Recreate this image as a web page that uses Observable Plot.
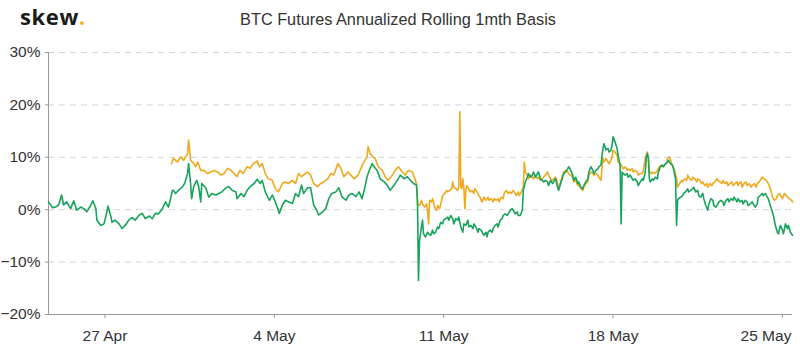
<!DOCTYPE html>
<html><head><meta charset="utf-8">
<script src="https://cdn.jsdelivr.net/npm/d3@7"></script>
<script src="https://cdn.jsdelivr.net/npm/@observablehq/plot@0.6"></script>
<style>
body{margin:0;background:#fff;width:800px;height:353px;overflow:hidden;}
svg{display:block;}
</style></head>
<body>
<svg id="head" width="800" height="40">
  <text x="20" y="25" font-family="Open Sans, sans-serif" font-weight="700" font-size="22" letter-spacing="0.6" fill="#1a1a1a">skew<tspan fill="#f2b52a">.</tspan></text>
  <text x="398" y="24.5" text-anchor="middle" font-family="Liberation Sans, Arial, sans-serif" font-size="16.3" fill="#333">BTC Futures Annualized Rolling 1mth Basis</text>
</svg>
<div id="chart"></div>
<script>
// Time axis: hours since 2020-04-24 16:00 UTC
const startTime = "2020-04-24T16:00:00Z";
const endHour = 738;
const tickDates = ["2020-04-27","2020-05-04","2020-05-11","2020-05-18","2020-05-25"];
const tickLabels = ["27 Apr","4 May","11 May","18 May","25 May"];
const yTicks = [-20,-10,0,10,20,30];

// Green series: [hour, basis %]
const greenData = [[0,1.5],[4,0.4],[7,0.5],[10,0.9],[13,2.8],[15,0.9],[18,1.5],[22,0.2],[25,1.7],[28,-0.1],[32,0.5],[35,0.2],[38,-0.4],[42,0.9],[44,1.7],[47,0.2],[48,-2.0],[52,-3.0],[55,-2.7],[58,-0.4],[59,0.7],[62,-1.4],[63,-2.4],[66,-2.0],[70,-2.7],[73,-3.6],[76,-3.0],[80,-1.9],[83,-1.5],[86,-2.0],[90,-1.0],[93,-0.7],[96,-1.7],[100,-1.2],[103,-1.7],[106,-0.7],[109,-0.8],[113,0.2],[116,1.5],[119,0.5],[121,2.1],[123,3.7],[124,3.7],[126,3.1],[129,3.7],[133,4.4],[135,5.0],[138,6.9],[139,8.8],[141,4.8],[142,2.1],[144,4.4],[147,5.6],[149,4.4],[151,1.5],[152,5.0],[156,4.2],[159,2.4],[162,3.1],[166,2.8],[169,3.1],[172,3.4],[176,4.2],[179,4.4],[182,3.7],[186,3.4],
[187,2.1],[191,3.1],[194,2.5],[197,3.7],[200,4.4],[204,5.0],[207,5.8],[210,5.0],[212,5.6],[215,3.4],[219,1.8],[222,2.8],[225,1.5],[229,-0.7],[232,0.9],[235,1.8],[238,1.5],[242,1.2],[245,3.1],[248,2.5],[251,4.7],[253,3.1],[257,4.2],[260,4.2],[263,0.9],[266,-0.1],[268,-1.0],[272,-0.4],[275,0.2],[278,2.1],[281,3.1],[285,3.4],[288,4.2],[291,2.5],[295,1.8],[298,2.8],[301,3.1],[305,2.5],[308,3.4],[311,2.1],[314,4.4],[316,6.3],[319,7.9],[321,8.8],[323,8.2],[326,7.5],[329,5.9],[333,5.3],[336,4.7],[339,3.7],[343,4.7],[346,5.6],[349,6.6],[353,5.9],[356,6.3],[359,5.6],[362,5.0],[365,4.7],
[366,1.8],[367,-13.5],[368,-5.9],[370,-3.3],[371,-2.0],[372,-4.6],[374,-5.2],[376,-4.3],[377,-4.6],[379,-4.9],[381,-3.9],[382,-4.6],[384,-4.3],[386,-3.3],[387,-3.6],[389,-2.4],[391,-2.7],[392,-2.0],[394,-1.7],[396,-1.4],[397,-2.0],[399,-1.1],[401,-1.7],[402,-2.7],[404,-1.7],[406,-2.0],[407,-1.4],[409,-3.3],[411,-4.3],[412,-2.7],[414,-3.0],[416,-2.0],[417,-3.3],[419,-3.0],[421,-3.6],[422,-2.7],[424,-3.3],[426,-4.3],[427,-3.6],[429,-3.9],[431,-4.6],[432,-4.9],[434,-4.3],[435,-5.2],[436,-4.3],[438,-3.9],[440,-4.3],[441,-3.6],[443,-3.0],[445,-2.7],[446,-3.3],[448,-2.0],[450,-1.7],[451,-1.1],[453,-0.8],[455,-1.1],[456,-0.8],[458,-0.1],[460,0.2],[461,-0.1],[463,-0.8],[465,-0.4],[466,-1.1],[468,-1.1],[470,-0.1],[471,3.7],[473,5.3],[475,6.2],[476,6.9],[478,6.2],[480,6.6],[481,7.2],[483,6.2],[485,6.9],[486,7.2],[488,5.9],[490,5.6],[491,5.3],[493,5.6],[495,5.3],[496,4.6],[498,5.6],[500,5.0],[501,5.3],[503,5.9],[505,4.3],[506,3.7],[508,5.0],[510,6.2],[511,6.9],[513,7.2],[515,7.8],[516,8.2],[518,7.5],[520,6.6],[521,5.6],[523,6.2],[525,5.0],[526,5.3],[528,4.3],[530,4.0],[531,4.6],[533,5.3],[535,5.9],[536,7.2],[538,8.2],[540,7.5],[541,6.9],[543,7.5],[545,7.8],[546,8.2],[548,8.5],
[550,11.7],[551,12.6],[553,11.4],[555,11.7],[556,11.0],[558,11.4],[559,12.3],[560,13.9],[562,12.9],[564,11.7],[565,10.4],[567,8.5],[568,-2.7],[569,7.2],[570,6.9],[572,6.6],[574,6.9],[575,6.2],[577,6.6],[579,5.9],[580,5.6],[582,5.9],[584,5.3],[585,4.6],[587,5.3],[589,5.9],[590,5.6],[592,7.2],[593,10.1],[594,10.7],[595,9.8],[596,5.9],[597,5.3],[599,5.9],[600,5.6],[602,6.2],[604,5.9],[605,7.2],[607,8.2],[609,8.5],[610,8.2],[612,8.8],[614,9.1],[615,9.4],[617,8.8],[619,8.5],[620,7.8],[622,5.9],[623,-3.0],[624,1.8],[625,2.1],[627,2.4],[629,2.7],[630,3.1],[632,3.4],[634,4.0],[635,3.4],[637,3.7],[639,4.0],[640,4.3],[642,3.4],[644,3.7],[645,2.7],[647,2.4],[649,3.1],[650,2.1],[652,0.8],[654,-0.1],[655,1.1],[657,2.1],[659,1.8],[660,0.8],[662,0.5],[664,1.1],[665,1.5],[667,1.8],[669,1.5],[670,0.8],[672,1.8],[674,2.1],[675,1.5],[677,2.1],[679,1.8],[680,2.4],[682,1.8],[683,1.5],[684,2.1],[686,1.5],[688,1.8],[689,1.1],[691,1.8],[693,1.5],[694,0.8],[696,1.1],[698,1.5],[699,1.1],[701,0.5],[703,1.1],[704,2.4],[706,2.7],[708,3.1],[709,2.7],[711,3.1],[713,2.4],[714,2.1],[716,0.8],[718,-0.4],[719,-1.1],[721,-3.0],[723,-4.3],[724,-4.6],[726,-3.0],[728,-3.9],[729,-4.6],[731,-2.7],[733,-3.6],[734,-3.0],[736,-4.3],[738,-4.9]];

// Orange series: [hour, basis %]
const orangeData = [[122,8.8],[124,9.8],[128,9.1],[131,10.1],[134,9.4],[138,10.7],[139,13.3],[141,9.4],[143,9.1],[146,8.2],[148,9.1],[151,7.5],[154,7.5],[158,6.9],[161,7.2],[164,7.5],[168,7.2],[171,6.6],[174,6.9],[178,7.9],[181,7.5],[184,6.9],
[187,6.3],[190,7.5],[193,6.9],[197,8.2],[200,7.9],[203,8.8],[207,9.3],[209,8.2],[212,8.8],[215,6.9],[218,5.9],[222,5.6],[225,4.0],[228,3.4],[232,5.0],[235,5.3],[238,5.0],[242,5.6],[245,5.0],[248,6.9],[251,6.3],[253,6.6],[257,7.2],[260,6.6],[263,5.0],[267,4.4],[270,5.0],[273,5.3],[277,5.9],[280,6.9],[283,6.6],[287,8.8],[290,7.9],[293,6.3],[297,7.2],[300,6.6],[303,5.9],[307,6.6],[310,7.9],[312,8.8],[316,10.1],[317,12.0],[319,10.7],[322,10.1],[324,9.8],[327,8.2],[331,7.5],[334,6.3],[337,5.6],[341,6.6],[344,7.5],[347,8.2],[351,7.2],[354,6.6],[357,7.5],[361,7.2],[364,5.6],
[365,5.0],[366,1.1],[368,0.8],[370,1.8],[371,1.1],[373,0.5],[375,1.1],[376,-0.1],[377,-2.7],[378,1.8],[380,1.5],[381,2.1],[383,0.5],[385,-0.1],[386,0.8],[388,0.2],[390,1.8],[391,2.7],[393,3.1],[395,3.7],[396,3.4],[398,3.7],[400,4.0],[401,5.3],[402,4.3],[404,4.0],[406,3.7],[407,4.3],[408,18.7],[409,4.3],[410,4.0],[411,5.9],[412,4.3],[413,0.2],[414,3.7],[415,4.6],[417,4.0],[418,3.4],[420,3.7],[422,3.1],[423,4.0],[425,3.4],[427,2.7],[428,2.4],[430,1.5],[432,2.4],[433,2.1],[434,1.8],[436,2.4],[437,1.8],[439,2.1],[441,1.5],[442,2.1],[444,1.8],[446,2.1],[447,1.5],[449,2.4],[451,2.1],[452,3.1],[454,3.7],[456,3.1],[457,3.4],[459,3.1],[461,3.7],[462,3.4],[464,2.7],[466,3.4],[467,2.7],[469,3.4],[471,4.3],[472,9.1],[473,7.2],[475,6.6],[476,5.9],[478,6.6],[480,6.2],[481,5.9],[483,6.6],[485,5.9],[486,6.2],[488,5.6],[490,5.9],[491,6.2],[493,6.6],[495,7.2],[496,6.6],[498,5.9],[500,5.6],[501,5.9],[503,6.2],[505,5.0],[506,4.0],[508,5.3],[510,6.6],[511,7.2],[513,7.5],[515,7.2],[516,6.9],[518,6.6],[520,6.2],[521,5.3],[523,5.6],[525,4.6],[526,5.0],[528,4.0],[530,3.7],[531,4.3],[533,5.0],[535,5.3],[536,6.6],[538,7.2],[540,6.9],[541,6.6],[543,6.9],[545,6.6],[546,6.2],[548,5.6],
[550,9.8],[551,9.1],[553,9.8],[555,9.1],[556,8.8],[558,9.4],[559,10.1],[560,11.3],[562,11.0],[564,10.4],[565,9.1],[567,8.8],[569,8.2],[570,7.8],[572,8.2],[574,7.5],[575,7.8],[577,7.5],[579,7.8],[580,7.2],[582,7.5],[584,7.2],[585,6.6],[587,6.9],[589,6.9],[590,7.5],[592,9.8],[594,11.0],[595,10.1],[596,7.2],[598,6.9],[599,7.2],[601,6.9],[603,7.2],[604,7.5],[606,8.2],[608,8.5],[609,8.2],[611,8.5],[613,8.8],[614,9.8],[616,10.1],[618,8.8],[619,8.2],[621,7.5],[623,5.9],[624,4.3],[626,5.0],[628,5.6],[629,5.3],[631,5.9],[633,5.6],[634,6.6],[636,5.9],[638,5.6],[639,6.2],[641,5.9],[643,5.3],[644,5.9],[646,5.6],[648,5.0],[649,5.3],[651,4.6],[653,5.0],[654,4.3],[656,5.0],[658,4.6],[659,5.0],[661,5.3],[663,5.9],[664,5.6],[666,5.3],[668,5.0],[669,5.6],[671,5.0],[673,5.3],[674,4.6],[676,5.0],[678,5.3],[679,4.6],[681,5.0],[683,5.3],[684,4.6],[685,5.0],[687,5.3],[688,4.3],[690,5.0],[692,5.3],[693,4.6],[695,5.0],[697,4.3],[698,4.6],[700,5.0],[702,4.3],[703,5.0],[705,5.3],[707,5.9],[708,6.2],[710,5.9],[712,5.6],[713,5.3],[715,4.6],[717,3.4],[718,2.4],[720,1.8],[722,2.1],[723,2.7],[725,3.1],[727,2.4],[728,2.1],[730,3.1],[732,2.7],[733,2.4],[735,2.1],[737,1.8],[738,1.5]];

const t0 = Date.parse(startTime);
const toRows = (pairs) => pairs.map(([h, v]) => ({date: new Date(t0 + h * 3600e3), value: v}));
const green = toRows(greenData);
const orange = toRows(orangeData);
const xTicks = tickDates.map(d => new Date(d + "T00:00:00Z"));
const xLabelRows = xTicks.map((d, i) => ({date: d, label: tickLabels[i], last: i === xTicks.length - 1}));
const fmtY = d => (d < 0 ? "\u2212" : "") + Math.abs(d) + "%";

const chart = Plot.plot({
  width: 800,
  height: 313,
  marginTop: 12,
  marginBottom: 39,
  marginLeft: 48,
  marginRight: 8,
  style: {fontFamily: "Liberation Sans, Arial, sans-serif", fontSize: "15.5px", color: "#333", background: "#fff"},
  x: {type: "utc", domain: [new Date(t0), new Date(t0 + endHour * 3600e3)]},
  y: {type: "linear", domain: [-20, 30]},
  marks: [
    Plot.gridY(yTicks.filter(d => d !== -20), {stroke: "#d6d6d6", strokeOpacity: 1, strokeDasharray: "6,5"}),
    Plot.ruleY([-20], {stroke: "#9a9a9a"}),
    Plot.ruleX([new Date(t0)], {stroke: "#9a9a9a"}),
    Plot.axisY(yTicks, {tickSize: 3, tickPadding: 5, stroke: "#9a9a9a", fill: "#333", tickFormat: fmtY, label: null}),
    Plot.axisX(xTicks, {tickSize: 4, stroke: "#9a9a9a", tickFormat: () => "", label: null}),
    Plot.text(xLabelRows.filter(d => !d.last), {x: "date", y: -20, text: "label", dy: 22, fill: "#333", fontSize: 15.5}),
    Plot.text(xLabelRows.filter(d => d.last), {x: "date", y: -20, text: "label", dy: 22, dx: 9, textAnchor: "end", fill: "#333", fontSize: 15.5}),
    Plot.line(orange, {x: "date", y: "value", stroke: "#eea91f", strokeWidth: 1.6}),
    Plot.line(green, {x: "date", y: "value", stroke: "#17a35c", strokeWidth: 1.6})
  ]
});
document.getElementById("chart").appendChild(chart);
</script>
</body></html>
